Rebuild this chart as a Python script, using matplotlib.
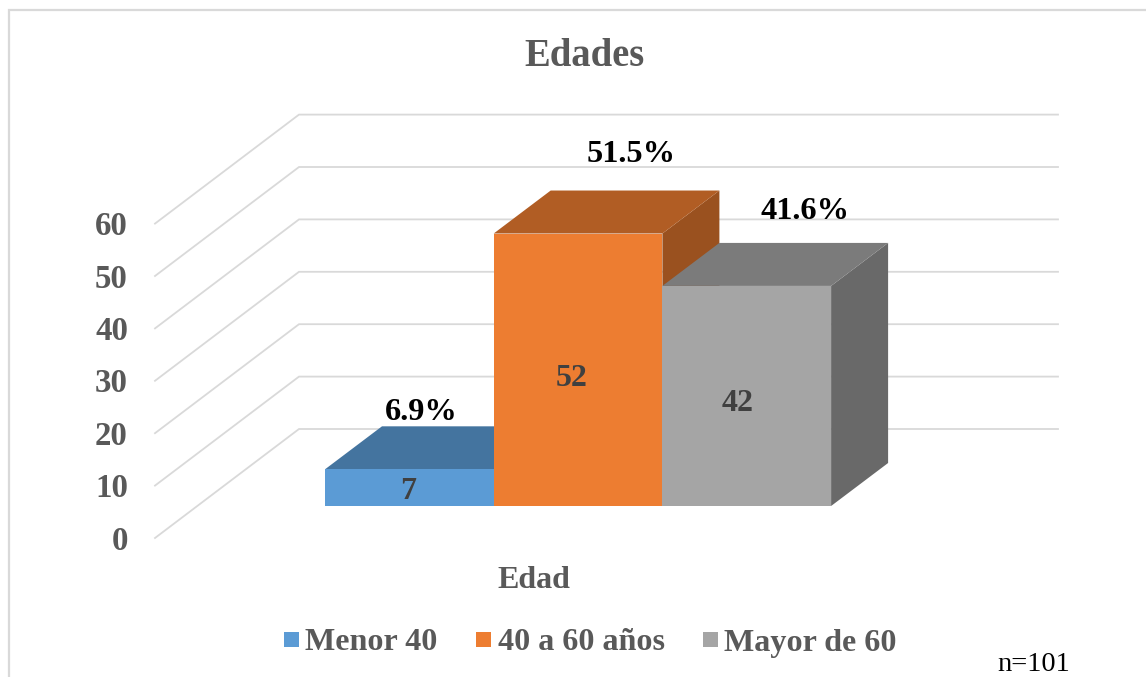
import matplotlib
matplotlib.use("Agg")
import matplotlib.pyplot as plt
from matplotlib.patches import Polygon, Rectangle

categories = ["Menor 40", "40 a 60 años", "Mayor de 60"]
values = [7, 52, 42]
percent_labels = ["6.9%", "51.5%", "41.6%"]
value_ticks = [0, 10, 20, 30, 40, 50, 60]
title = "Edades"
axis_label = "Edad"
note = "n=101"

front_colors = ["#5B9BD5", "#ED7D31", "#A5A5A5"]
top_colors = ["#44749F", "#B15D24", "#7B7B7B"]
side_colors = ["#3A6488", "#9A511F", "#696969"]

W, H = 1146, 677
plt.rcParams["font.family"] = ["Liberation Serif", "DejaVu Serif"]
fig = plt.figure(figsize=(W / 100, H / 100), dpi=100)
ax = fig.add_axes([0, 0, 1, 1])
ax.set_xlim(0, W)
ax.set_ylim(H, 0)
ax.axis("off")

PX_PER_UNIT = 5.24
FLOOR_FRONT = (155, 538)
FLOOR_DEPTH = (144, -109)
BAR_X0, BAR_W = 325, 168.7
BAR_BASE = 506
BAR_DEPTH = (57, -43)
GRID_RIGHT = 1058
GRID = "#D9D9D9"
VALUE_SHIFT = [(-1, 4), (-6, 9), (-9, 8)]
PERCENT_SHIFT = [(12, -14), (53, -36), (58, -31)]


def y_of(v, base):
    return base - PX_PER_UNIT * v


fig.add_artist(Rectangle((9 / W, -0.1), 1.2, 1.1 - 9.8 / H, transform=fig.transFigure,
                         fill=False, ec=GRID, lw=1.6))

for v in value_ticks:
    yf = y_of(v, FLOOR_FRONT[1])
    yb = yf + FLOOR_DEPTH[1]
    xb = FLOOR_FRONT[0] + FLOOR_DEPTH[0]
    ax.plot([FLOOR_FRONT[0], xb, GRID_RIGHT], [yf, yb, yb], color=GRID, lw=1.3, zorder=1,
            solid_joinstyle="miter")
    ax.text(128, yf + 3, str(v), ha="right", va="center", fontsize=23.7, fontweight="bold",
            color="#595959")

for i, v in enumerate(values):
    x0 = BAR_X0 + i * BAR_W
    x1 = x0 + BAR_W
    yt = y_of(v, BAR_BASE)
    dx, dy = BAR_DEPTH
    ax.add_patch(Polygon([(x1, BAR_BASE), (x1 + dx, BAR_BASE + dy), (x1 + dx, yt + dy), (x1, yt)],
                         fc=side_colors[i], ec="none", zorder=3 + i))
    ax.add_patch(Polygon([(x0, yt), (x0 + dx, yt + dy), (x1 + dx, yt + dy), (x1, yt)],
                         fc=top_colors[i], ec="none", zorder=3 + i))
    ax.add_patch(Rectangle((x0, yt), BAR_W, BAR_BASE - yt, fc=front_colors[i], ec="none",
                           zorder=3 + i))
    sx, sy = VALUE_SHIFT[i]
    ax.text((x0 + x1) / 2 + sx, (yt + BAR_BASE) / 2 + sy, str(v), ha="center", va="center",
            fontsize=23, fontweight="bold", color="#404040", zorder=10)
    px, py = PERCENT_SHIFT[i]
    ax.text((x0 + x1) / 2 + px, yt + dy + py, percent_labels[i],
            ha="center", va="center", fontsize=23.3, fontweight="bold", color="black", zorder=10)

ax.text(584.5, 57, title, ha="center", va="center", fontsize=27.8, fontweight="bold", color="#595959")
ax.text(534, 581, axis_label, ha="center", va="center", fontsize=23, fontweight="bold", color="#595959")
ax.text(997, 671, note, ha="left", va="baseline", fontsize=20.5, color="black")

legend_swatch = [284, 476, 703]
legend_text = [305, 498, 724]
for sx, tx, c, name in zip(legend_swatch, legend_text, front_colors, categories):
    ax.add_patch(Rectangle((sx, 632), 15, 15, fc=c, ec="none"))
    ax.text(tx, 643, name, ha="left", va="center", fontsize=23.15, fontweight="bold", color="#595959")

fig.savefig("out.png", dpi=100)
